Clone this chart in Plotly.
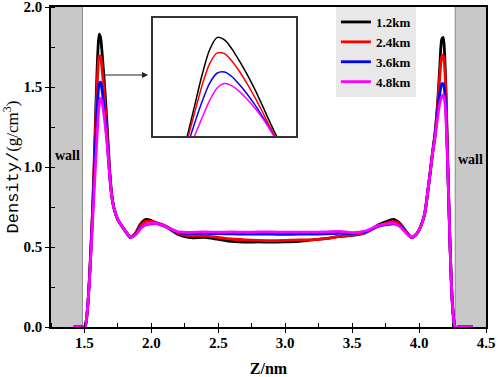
import plotly.graph_objects as go

# ---------------- data ----------------
z = [1.42, 1.48, 1.50, 1.51, 1.52, 1.53, 1.54, 1.55, 1.56, 1.57, 1.58, 1.59, 1.60,
     1.61, 1.62, 1.63, 1.64, 1.65, 1.66, 1.67, 1.68, 1.69, 1.70, 1.71, 1.72, 1.75,
     1.78, 1.81, 1.845, 1.88, 1.92, 1.96, 2.00, 2.05, 2.10, 2.15, 2.20, 2.25,
     2.30, 2.40, 2.50, 2.60, 2.70, 2.80, 2.90, 3.00, 3.10, 3.20, 3.30, 3.40,
     3.50, 3.60, 3.70, 3.76, 3.81, 3.86, 3.90, 3.945, 3.98, 4.01, 4.04, 4.07,
     4.10, 4.12, 4.14, 4.155, 4.17, 4.18, 4.19, 4.20, 4.21, 4.22, 4.23, 4.24,
     4.25, 4.26, 4.27, 4.30, 4.40]

d_12 = [0, 0, 0.00, 0.02, 0.09, 0.20, 0.35, 0.53, 0.72, 0.96, 1.23, 1.50, 1.72,
        1.83, 1.81, 1.73, 1.625, 1.51, 1.385, 1.245, 1.10, 0.965, 0.86, 0.79, 0.745, 0.67,
        0.63, 0.595, 0.56, 0.585, 0.645, 0.672, 0.665, 0.645, 0.63, 0.605, 0.578, 0.565,
        0.558, 0.56, 0.548, 0.535, 0.53, 0.532, 0.53, 0.532, 0.535, 0.545, 0.552, 0.565,
        0.572, 0.59, 0.64, 0.66, 0.672, 0.645, 0.60, 0.56, 0.58, 0.625, 0.70, 0.88,
        1.09, 1.22, 1.42, 1.63, 1.80, 1.81, 1.72, 1.50, 1.18, 0.84, 0.55, 0.30,
        0.13, 0.04, 0.0, 0, 0]

d_24 = [0, 0, 0.00, 0.02, 0.09, 0.20, 0.35, 0.52, 0.71, 0.93, 1.17, 1.41, 1.60,
        1.695, 1.69, 1.625, 1.535, 1.43, 1.315, 1.19, 1.06, 0.945, 0.85, 0.785, 0.745, 0.67,
        0.63, 0.595, 0.56, 0.583, 0.635, 0.66, 0.66, 0.65, 0.635, 0.61, 0.585, 0.575,
        0.572, 0.57, 0.56, 0.55, 0.545, 0.542, 0.54, 0.542, 0.545, 0.545, 0.552, 0.565,
        0.574, 0.59, 0.635, 0.65, 0.66, 0.64, 0.60, 0.56, 0.58, 0.625, 0.70, 0.88,
        1.08, 1.21, 1.40, 1.57, 1.69, 1.70, 1.64, 1.45, 1.16, 0.84, 0.55, 0.30,
        0.13, 0.04, 0.0, 0, 0]

d_36 = [0, 0, 0.00, 0.02, 0.09, 0.20, 0.34, 0.51, 0.69, 0.88, 1.08, 1.27, 1.43,
        1.52, 1.53, 1.49, 1.42, 1.34, 1.25, 1.15, 1.04, 0.93, 0.845, 0.785, 0.745, 0.67,
        0.63, 0.595, 0.56, 0.578, 0.62, 0.64, 0.645, 0.645, 0.63, 0.61, 0.59, 0.585,
        0.585, 0.585, 0.583, 0.582, 0.58, 0.58, 0.58, 0.579, 0.58, 0.58, 0.582, 0.585,
        0.585, 0.595, 0.63, 0.64, 0.645, 0.63, 0.595, 0.56, 0.58, 0.625, 0.70, 0.88,
        1.08, 1.20, 1.36, 1.46, 1.52, 1.52, 1.48, 1.36, 1.12, 0.84, 0.55, 0.30,
        0.13, 0.04, 0.0, 0, 0]

d_48 = [0, 0, 0.00, 0.02, 0.09, 0.19, 0.33, 0.49, 0.65, 0.81, 0.97, 1.13, 1.28,
        1.39, 1.43, 1.41, 1.36, 1.295, 1.22, 1.135, 1.035, 0.93, 0.845, 0.785, 0.745, 0.67,
        0.63, 0.595, 0.56, 0.575, 0.615, 0.64, 0.648, 0.645, 0.63, 0.612, 0.595, 0.592,
        0.592, 0.594, 0.593, 0.594, 0.593, 0.594, 0.594, 0.593, 0.593, 0.593, 0.594, 0.598,
        0.59, 0.60, 0.635, 0.645, 0.648, 0.625, 0.59, 0.56, 0.58, 0.625, 0.70, 0.88,
        1.08, 1.19, 1.32, 1.40, 1.44, 1.45, 1.42, 1.32, 1.10, 0.84, 0.55, 0.30,
        0.13, 0.04, 0.0, 0, 0]

series_names = ["1.2km", "2.4km", "3.6km", "4.8km"]
series_values = [d_12, d_24, d_36, d_48]
series_colors = ["#000000", "#ff0000", "#0000ff", "#ff00ff"]

x_ticks = [1.5, 2.0, 2.5, 3.0, 3.5, 4.0, 4.5]
y_ticks = [0.0, 0.5, 1.0, 1.5, 2.0]
wall_left = [1.25, 1.485]
wall_right = [4.27, 4.5]

# ---------------- figure ----------------
fig = go.Figure()
for name, vals, col in zip(series_names, series_values, series_colors):
    fig.add_trace(go.Scatter(x=z, y=vals, name=f"<b>{name}</b>", mode="lines",
                             line=dict(color=col, width=2.8, shape="spline", smoothing=0.8),
                             xaxis="x", yaxis="y"))
for name, vals, col in zip(series_names, series_values, series_colors):
    fig.add_trace(go.Scatter(x=z, y=vals, name=name, mode="lines", showlegend=False,
                             line=dict(color=col, width=1.5, shape="spline", smoothing=0.8),
                             xaxis="x2", yaxis="y2"))

font_serif = "Liberation Serif, Times New Roman, serif"

# walls
for x0, x1, edge in [(wall_left[0], wall_left[1], wall_left[1]),
                     (wall_right[0], wall_right[1], wall_right[0])]:
    fig.add_shape(type="rect", xref="x", yref="y", x0=x0, x1=x1, y0=0, y1=2,
                  fillcolor="#c8c8c8", line=dict(width=0), layer="below")
    fig.add_shape(type="line", xref="x", yref="y", x0=edge, x1=edge, y0=0, y1=2,
                  line=dict(color="#8a8a8a", width=1), layer="below")

fig.add_annotation(x=1.374, y=1.07, xref="x", yref="y", text="<b>wall</b>", showarrow=False,
                   font=dict(family=font_serif, size=14, color="black"))
fig.add_annotation(x=4.382, y=1.05, xref="x", yref="y", text="<b>wall</b>", showarrow=False,
                   font=dict(family=font_serif, size=14, color="black"))

# arrow to inset
fig.add_annotation(x=1.975, y=1.575, ax=1.64, ay=1.575, xref="x", yref="y",
                   axref="x", ayref="y", text="", showarrow=True,
                   arrowhead=2, arrowsize=1.2, arrowwidth=1, arrowcolor="#222222")

axis_common = dict(showline=True, linecolor="black", linewidth=1.5, mirror=True,
                   showgrid=False, zeroline=False, automargin=False,
                   ticklabeloverflow="allow",
                   tickfont=dict(family=font_serif, size=15, color="black"))

fig.update_layout(
    width=498, height=377,
    margin=dict(l=51, r=12, t=7, b=50),
    plot_bgcolor="white", paper_bgcolor="white",
    xaxis=dict(range=[1.25, 4.5], tickvals=x_ticks,
               ticktext=[f"<b>{v:.1f}</b>" for v in x_ticks],
               ticks="outside", ticklen=4, tickwidth=1.2, tickcolor="black",
               ticklabelstandoff=-3,
               minor=dict(ticks="inside", dtick=0.25, tick0=1.25, ticklen=4, tickwidth=1.2,
                          tickcolor="black"),
               title=dict(text="<b>Z/nm</b>", font=dict(family=font_serif, size=16, color="black"),
                          standoff=13),
               **axis_common),
    yaxis=dict(range=[0, 2.0], tickvals=y_ticks,
               ticktext=[f"<b>{v:.1f}</b>" for v in y_ticks],
               ticks="outside", ticklen=4, tickwidth=1.2, tickcolor="black",
               minor=dict(ticks="inside", dtick=0.25, tick0=0, ticklen=4, tickwidth=1.2,
                          tickcolor="black"),
               title=dict(text='<span style="font-family:Liberation Mono">Density/</span>(g/cm<sup>3</sup>)',
                          font=dict(family=font_serif, size=17, color="black"), standoff=3),
               **axis_common),
    xaxis2=dict(domain=[0.2345, 0.5632], anchor="y2", range=[1.525, 1.715],
                showline=True, linecolor="#333333", linewidth=1.5, mirror=True,
                showticklabels=False, ticks="", showgrid=False, zeroline=False),
    yaxis2=dict(domain=[0.5969, 0.9656], anchor="x2", range=[0.975, 2.0],
                showline=True, linecolor="#333333", linewidth=1.5, mirror=True,
                showticklabels=False, ticks="", showgrid=False, zeroline=False),
    legend=dict(x=0.655, y=1.0, xanchor="left", yanchor="top",
                bgcolor="#e8e8e8", borderwidth=0,
                font=dict(family=font_serif, size=13, color="black"),
                tracegroupgap=0, itemwidth=30),
    showlegend=True,
)

fig.write_html("out.html", config={"displayModeBar": False},
               post_script="document.body.style.margin='0';")
